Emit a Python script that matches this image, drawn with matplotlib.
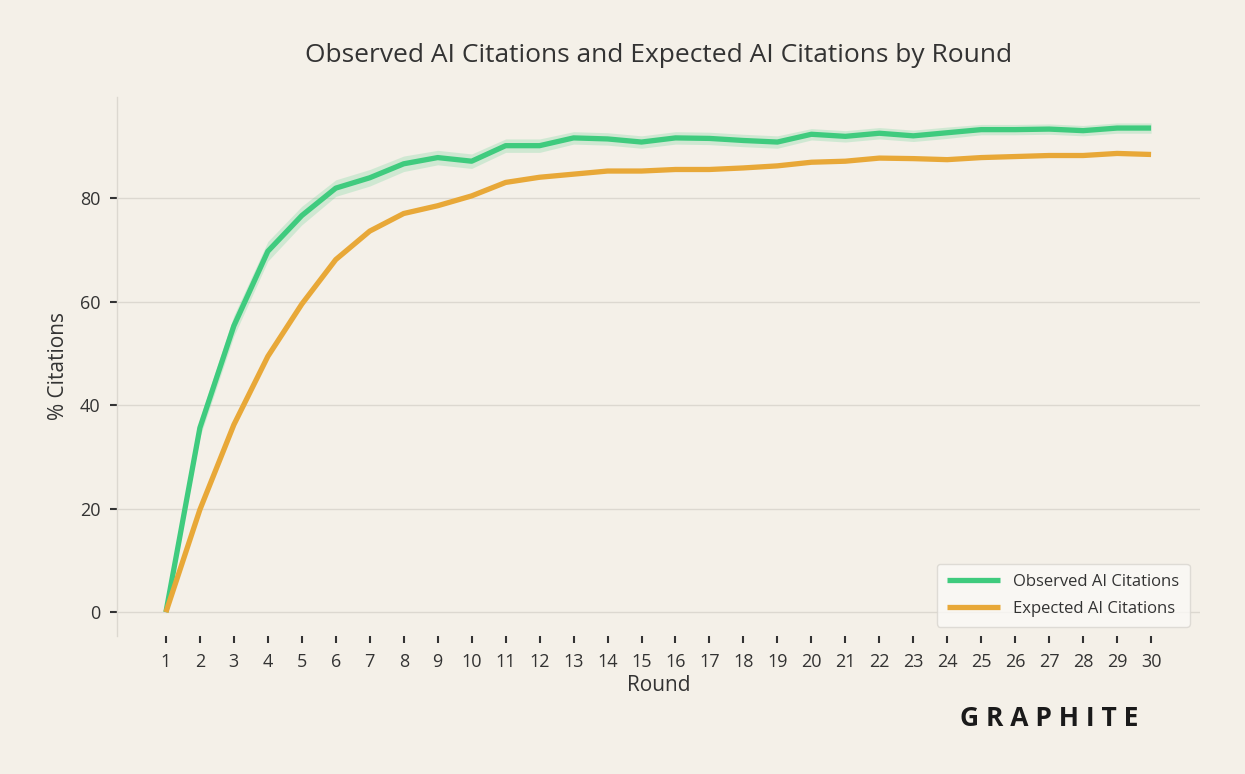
import matplotlib
matplotlib.use("Agg")
import matplotlib.pyplot as plt
import numpy as np

# data
rounds = list(range(1, 31))
observed = [0, 35.6, 55.3, 69.7, 76.6, 81.9, 83.9, 86.6, 87.8, 87.1,
            90.1, 90.1, 91.6, 91.4, 90.8, 91.6, 91.5, 91.1, 90.8, 92.3,
            91.9, 92.5, 92.0, 92.6, 93.2, 93.2, 93.3, 93.0, 93.5, 93.5]
observed_err = [0.3, 1.8, 2.0, 1.9, 1.8, 1.6, 1.6, 1.5, 1.4, 1.4,
                1.3, 1.3, 1.2, 1.2, 1.2, 1.2, 1.2, 1.2, 1.2, 1.1,
                1.1, 1.1, 1.1, 1.1, 1.0, 1.0, 1.0, 1.0, 1.0, 1.0]
expected = [0, 19.8, 36.2, 49.4, 59.5, 68.1, 73.6, 77.0, 78.5, 80.4,
            83.0, 84.0, 84.6, 85.2, 85.2, 85.5, 85.5, 85.8, 86.2, 86.9,
            87.1, 87.7, 87.6, 87.4, 87.8, 88.0, 88.2, 88.2, 88.6, 88.4]

bg = "#f4f0e8"
txt = "#333333"
green = "#3fcb7e"
orange = "#e8a838"

plt.rcParams['font.family'] = ['Open Sans', 'DejaVu Sans']

fig = plt.figure(figsize=(12.45, 7.74), dpi=100, facecolor=bg)
ax = fig.add_axes([117/1245, 1 - 636/774, (1200-117)/1245, (636-97)/774])
ax.set_facecolor(bg)

obs = np.array(observed)
err = np.array(observed_err)
ax.fill_between(rounds, obs - err, obs + err, color=green, alpha=0.2, lw=0)
ax.plot(rounds, observed, color=green, lw=3.8, label="Observed AI Citations", solid_capstyle="butt")
ax.plot(rounds, expected, color=orange, lw=3.8, label="Expected AI Citations", solid_capstyle="butt")

ax.set_xlim(-0.44, 31.44)
ax.set_ylim(-4.6, 99.5)
ax.set_xticks(rounds)
ax.set_yticks([0, 20, 40, 60, 80])
ax.grid(axis="y", color="#dcd8d0", lw=1)
ax.set_axisbelow(True)

for s in ["top", "right", "bottom"]:
    ax.spines[s].set_visible(False)
ax.spines["left"].set_color("#dcd8d0")
ax.spines["left"].set_linewidth(1)

ax.tick_params(axis="x", colors=txt, labelsize=13, length=5, width=1.5, pad=7)
ax.tick_params(axis="y", colors=txt, labelsize=13, length=5, width=1.5, pad=7)

ax.set_xlabel("Round", fontsize=15, color=txt, labelpad=3)
ax.set_ylabel("% Citations", fontsize=15, color=txt, labelpad=8)
fig.text(0.529, 1 - 55/774, "Observed AI Citations and Expected AI Citations by Round",
         ha="center", va="center", fontsize=19, color=txt)

leg = ax.legend(loc="lower right", bbox_to_anchor=(0.998, 0.002), fontsize=12,
                frameon=True, facecolor="#fbf9f6", edgecolor="#d8d5cf",
                handlelength=3.2, labelspacing=0.65, borderpad=0.6, labelcolor=txt)
leg.get_frame().set_linewidth(1)

fig.text(1049/1245, 1 - 718/774, "G R A P H I T E", ha="center", va="center",
         fontsize=19, fontweight="bold", color="#1a1a1a")

fig.savefig("out.png", dpi=100, facecolor=bg)
